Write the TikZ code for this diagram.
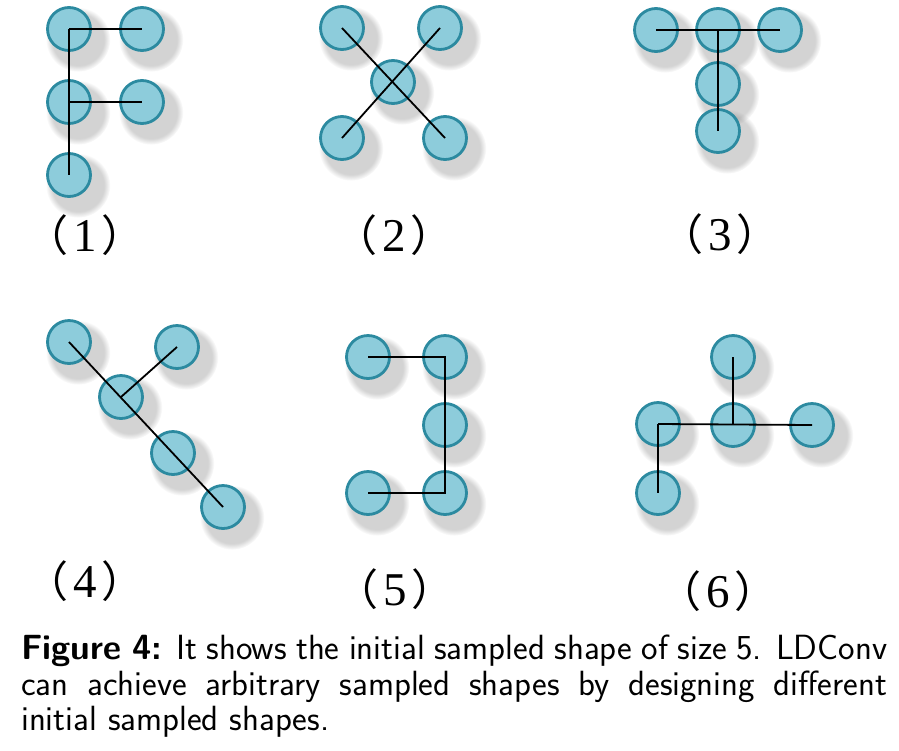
\documentclass[tikz,border=0pt]{standalone}
\usepackage{fontspec}
\newfontfamily\numfont{Liberation Serif}
\newfontfamily\cjkfont{Noto Sans CJK SC}
\usetikzlibrary{shadows}
\definecolor{ptfill}{RGB}{141,204,219}
\definecolor{ptedge}{RGB}{44,138,160}
\newcommand{\shapetag}[1]{{\cjkfont （}\hspace{5pt}{\numfont\fontsize{47}{50}\selectfont #1}\hspace{5pt}{\cjkfont ）}}

\begin{document}
\begin{tikzpicture}[
    x=1pt, y=-1pt,
    samplept/.style={circle, draw=ptedge, fill=ptfill, line width=2.8pt, minimum size=43pt, inner sep=0pt,
        circular drop shadow={shadow xshift=6pt, shadow yshift=-7pt, shadow scale=1.5, opacity=0.35,
            path fading=circle with fuzzy edge 20 percent}},
    link/.style={line width=1.8pt, black},
    tag/.style={anchor=base, inner sep=0pt, font=\fontsize{43}{50}\selectfont}
]
\useasboundingbox (0,0) rectangle (899,750);

% Shape 1
\node[samplept] (a1) at (69,29) {};
\node[samplept] (b1) at (142,29) {};
\node[samplept] (c1) at (69,102) {};
\node[samplept] (d1) at (142,102) {};
\node[samplept] (e1) at (69,175) {};

\draw[link] (a1.center) -- (e1.center);
\draw[link] (a1.center) -- (b1.center);
\draw[link] (c1.center) -- (d1.center);

\node[tag] (t1) at (85,251) {\shapetag{1}};

% Shape 2
\node[samplept] (a2) at (342,28) {};
\node[samplept] (b2) at (440,28) {};
\node[samplept] (c2) at (393,82) {};
\node[samplept] (d2) at (342,138) {};
\node[samplept] (e2) at (445,138) {};

\draw[link] (a2.center) -- (e2.center);
\draw[link] (d2.center) -- (b2.center);

\node[tag] (t2) at (394,251) {\shapetag{2}};

% Shape 3
\node[samplept] (a3) at (656,30) {};
\node[samplept] (b3) at (718,30) {};
\node[samplept] (c3) at (780,30) {};
\node[samplept] (d3) at (718,84) {};
\node[samplept] (e3) at (718,131) {};

\draw[link] (a3.center) -- (c3.center);
\draw[link] (b3.center) -- (e3.center);

\node[tag] (t3) at (720,250) {\shapetag{3}};

% Shape 4
\node[samplept] (a4) at (69,342) {};
\node[samplept] (b4) at (177,347) {};
\node[samplept] (c4) at (121,397) {};
\node[samplept] (d4) at (173,453) {};
\node[samplept] (e4) at (223,507) {};

\draw[link] (a4.center) -- (e4.center);
\draw[link] (c4.center) -- (b4.center);

\node[tag] (t4) at (85,597) {\shapetag{4}};

% Shape 5
\node[samplept] (a5) at (368,357) {};
\node[samplept] (b5) at (445,357) {};
\node[samplept] (c5) at (445,425) {};
\node[samplept] (d5) at (368,493) {};
\node[samplept] (e5) at (445,493) {};

\draw[link] (a5.center) -- (b5.center) -- (e5.center) -- (d5.center);

\node[tag] (t5) at (395,605) {\shapetag{5}};

% Shape 6
\node[samplept] (a6) at (733,357) {};
\node[samplept] (b6) at (658,424) {};
\node[samplept] (c6) at (733,425) {};
\node[samplept] (d6) at (812,425) {};
\node[samplept] (e6) at (658,493) {};

\draw[link] (a6.center) -- (c6.center);
\draw[link] (b6.center) -- (d6.center);
\draw[link] (b6.center) -- (e6.center);

\node[tag] (t6) at (718,607) {\shapetag{6}};

% caption
\node[anchor=north west, inner sep=0pt, text width=866pt, align=justify,
      font=\sffamily\fontsize{35}{35.5}\selectfont] (cap) at (21,635)
    {\textbf{Figure 4:} It shows the initial sampled shape of size 5. LDConv\linebreak
     can achieve arbitrary sampled shapes by designing different\linebreak
     initial sampled shapes.};

\end{tikzpicture}
\end{document}
